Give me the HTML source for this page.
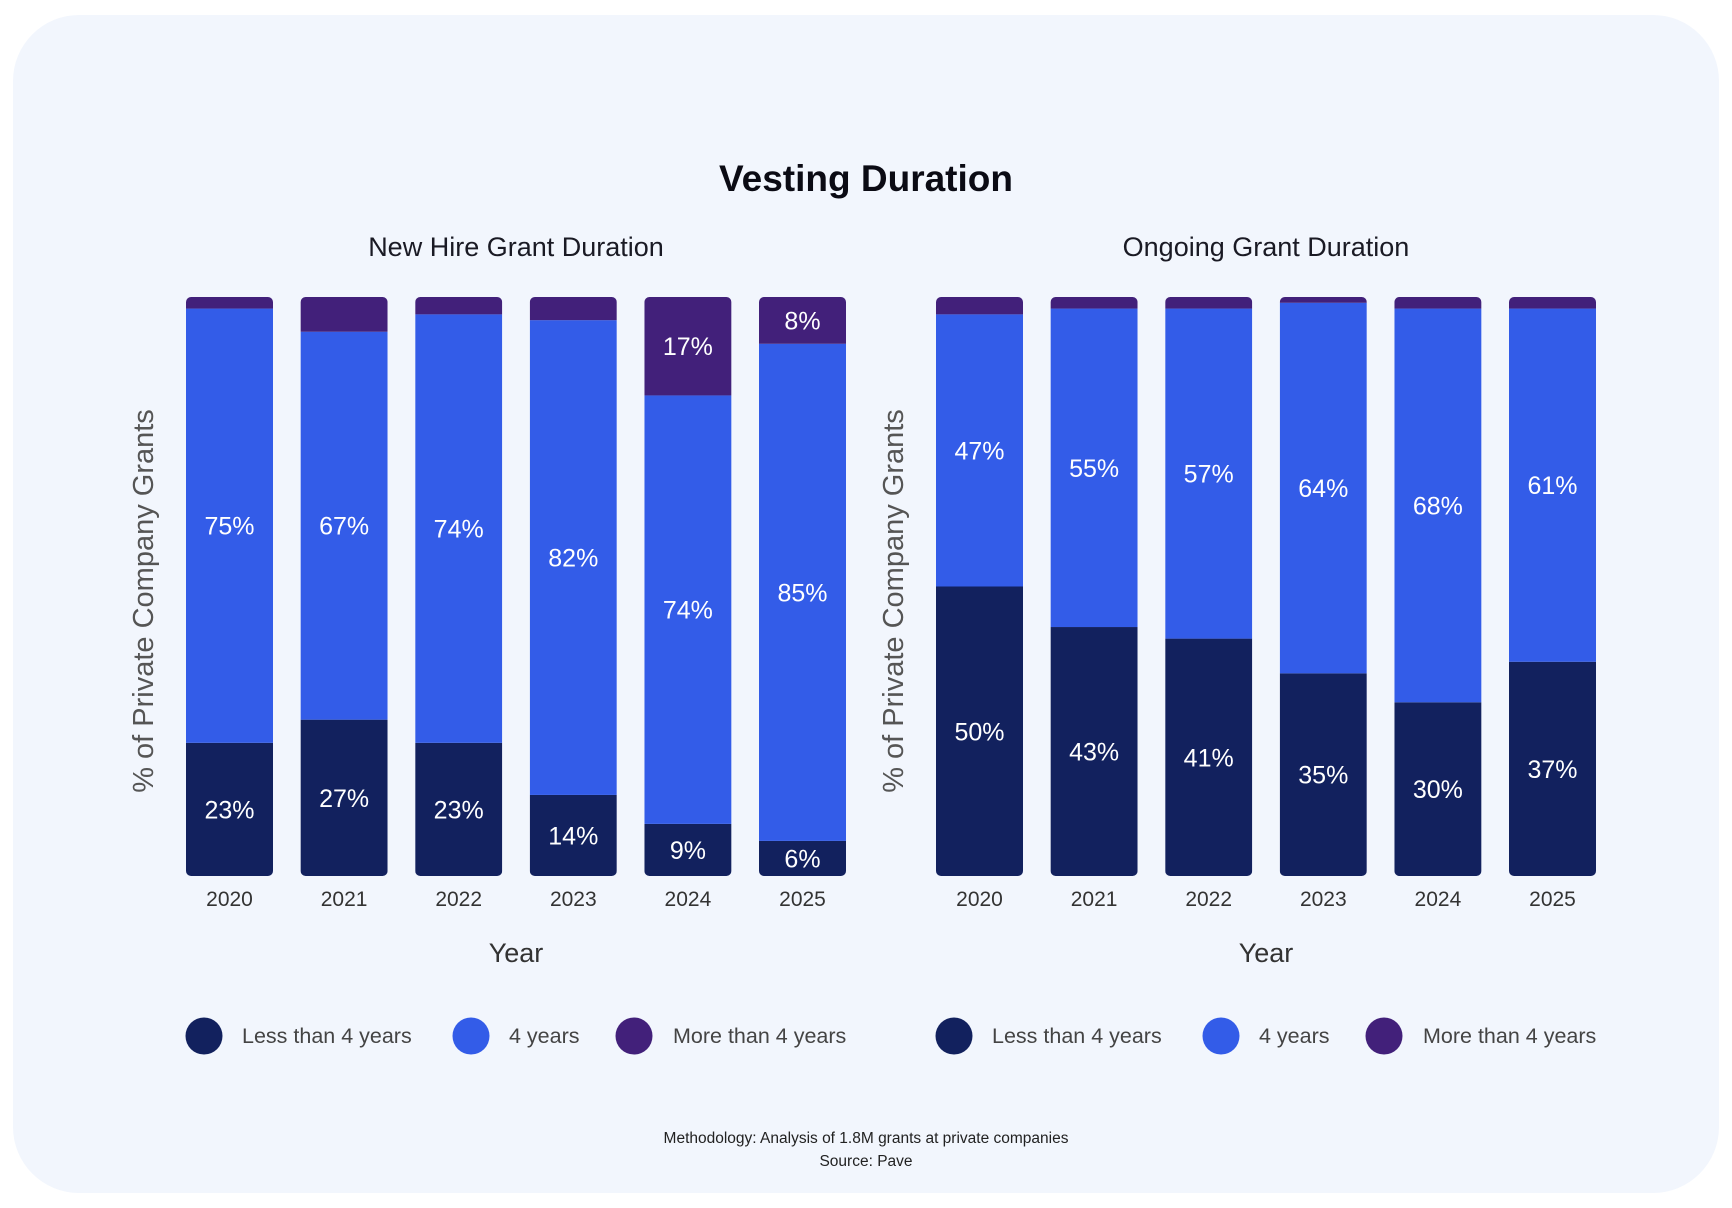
<!DOCTYPE html>
<html><head><meta charset="utf-8"><style>
html,body{margin:0;padding:0;background:#fff;}
body{width:1732px;height:1208px;position:relative;overflow:hidden;font-family:"Liberation Sans",sans-serif;}
#card{position:absolute;left:13px;top:15px;width:1706px;height:1178px;background:#f2f6fd;border-radius:66px;}
svg{position:absolute;left:0;top:0;}
</style></head><body>
<div id="card"></div>
<svg id="chart" width="1732" height="1208">
<text x="866" y="191" text-anchor="middle" font-size="37" font-weight="bold" fill="#0b0b14">Vesting Duration</text>
<g id="footer">
<text x="866" y="1143" text-anchor="middle" font-size="15.5" fill="#222">Methodology: Analysis of 1.8M grants at private companies</text>
<text x="866" y="1166" text-anchor="middle" font-size="15.5" fill="#222">Source: Pave</text>
</g>
</svg>
<script>
const years = ["2020","2021","2022","2023","2024","2025"];
const seriesNames = ["Less than 4 years","4 years","More than 4 years"];
const newHireLess = [23,27,23,14,9,6];
const newHireFour = [75,67,74,82,74,85];
const newHireMore = [2,6,3,4,17,8];
const ongoingLess = [50,43,41,35,30,37];
const ongoingFour = [47,55,57,64,68,61];
const ongoingMore = [3,2,2,1,2,2];
const showMoreLabelMin = 7;

const colors = ["#12215e","#335ce8","#42207a"];
const NS = "http://www.w3.org/2000/svg";
const svg = document.getElementById('chart');
function mk(tag, attrs, parent){const e=document.createElementNS(NS,tag);for(const k in attrs)e.setAttribute(k,attrs[k]);(parent||svg).appendChild(e);return e;}

function panel(opts){
  const {x0,title,less,four,more,key} = opts;
  const top=297, bottom=876, barW=87, pitch=114.6;
  const g = mk('g',{});
  
  
  const xScale = i => x0 + i*pitch;
  const yScale = v => (bottom-top)*v/100;
  const center = x0 + (years.length-1)*pitch/2 + barW/2;
  const t = mk('text',{x:center,y:256,'text-anchor':'middle','font-size':27,fill:'#1a1a24'},g);
  t.textContent = title;
  
  
  const yt = mk('text',{x:0,y:0,'text-anchor':'middle','font-size':29,fill:'#555',transform:`translate(${x0-33},601) rotate(-90)`},g);
  yt.textContent = "% of Private Company Grants";
  
  
  const xt = mk('text',{x:center,y:962,'text-anchor':'middle','font-size':27,fill:'#333'},g);
  xt.textContent = "Year";
  
  
  years.forEach((yr,i)=>{
    const vals=[less[i],four[i],more[i]];
    const sum=vals[0]+vals[1]+vals[2];
    const x=xScale(i);
    const bg = mk('g',{},g);
    
    
    const cp = 'clip-'+key+'-'+i;
    const cpEl = mk('clipPath',{id:cp},bg);
    mk('rect',{x:x,y:top,width:barW,height:bottom-top,rx:5},cpEl);
    let y=bottom;
    vals.forEach((v,s)=>{
      const h=yScale(v*100/sum);
      const r=mk('rect',{x:x,y:y-h,width:barW,height:h,fill:colors[s],'clip-path':`url(#${cp})`},bg);
      
      
      if(s<2 || v>=showMoreLabelMin){
        const lt=mk('text',{x:x+barW/2,y:y-h/2+9,'text-anchor':'middle','font-size':25,fill:'#fff'},bg);
        lt.textContent=v+'%';
        
        
      }
      y-=h;
    });
    const tk=mk('text',{x:x+barW/2,y:906,'text-anchor':'middle','font-size':21,fill:'#333'},g);
    tk.textContent=yr;
    
    
  });
  const lg = mk('g',{},g);
  
  
  const offs=[[18,56],[285,323],[448,487]];
  seriesNames.forEach((n,s)=>{
    const eg=mk('g',{},lg);
    
    
    mk('circle',{cx:x0+offs[s][0],cy:1036,r:18.5,fill:colors[s]},eg);
    const lt=mk('text',{x:x0+offs[s][1],y:1043,'font-size':21.5,fill:'#444'},eg);
    lt.textContent=n;
  });
}
panel({x0:186,title:"New Hire Grant Duration",less:newHireLess,four:newHireFour,more:newHireMore,key:'new-hire'});
panel({x0:936,title:"Ongoing Grant Duration",less:ongoingLess,four:ongoingFour,more:ongoingMore,key:'ongoing'});
</script>
</body></html>
